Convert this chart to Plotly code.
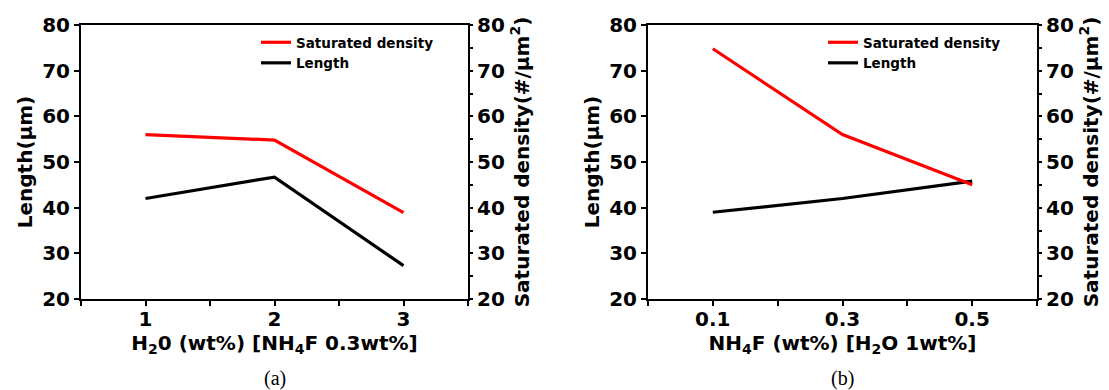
import plotly.graph_objects as go

# ---- data ----
h2o_x = [1, 2, 3]
h2o_density = [56.0, 54.8, 38.9]
h2o_length = [42.0, 46.7, 27.3]

nh4f_x = [0.1, 0.3, 0.5]
nh4f_density = [74.8, 56.0, 45.0]
nh4f_length = [39.0, 42.0, 45.8]

y_range = [20, 80]
h2o_ticks = [1, 2, 3]
nh4f_ticks = [0.1, 0.3, 0.5]
nh4f_ticklabels = ["0.1", "0.3", "0.5"]

W, H = 1109, 390
FONT = "DejaVu Sans"
BOLD = dict(family=FONT, size=20, color="black", weight="bold")
TITLE = dict(family=FONT, size=20, color="black", weight="bold")

fig = go.Figure()

# Left panel
fig.add_trace(go.Scatter(x=h2o_x, y=h2o_density, mode="lines", name="Saturated density",
                         line=dict(color="#ff0000", width=3.2), xaxis="x", yaxis="y2",
                         legend="legend"))
fig.add_trace(go.Scatter(x=h2o_x, y=h2o_length, mode="lines", name="Length",
                         line=dict(color="black", width=3.2), xaxis="x", yaxis="y",
                         legend="legend"))
# Right panel
fig.add_trace(go.Scatter(x=nh4f_x, y=nh4f_density, mode="lines", name="Saturated density",
                         line=dict(color="#ff0000", width=3.2), xaxis="x3", yaxis="y4",
                         legend="legend2"))
fig.add_trace(go.Scatter(x=nh4f_x, y=nh4f_length, mode="lines", name="Length",
                         line=dict(color="black", width=3.2), xaxis="x3", yaxis="y3",
                         legend="legend2"))

ydom = [1 - 299 / H, 1 - 25 / H]
xdomA = [81 / W, 468 / W]
xdomB = [648 / W, 1037 / W]

def xax(domain, rng, tickvals, ticktext, title, anchor):
    return dict(domain=domain, range=rng, tickvals=tickvals, ticktext=ticktext,
                ticks="outside", ticklen=5, tickwidth=2, tickcolor="black",
                showline=True, linewidth=2, linecolor="black", mirror=True,
                showgrid=False, zeroline=False, tickfont=BOLD, anchor=anchor,
                automargin=False, ticklabelstandoff=-4,
                minor=dict(ticks="outside", ticklen=5, tickwidth=2, tickcolor="black",
                           dtick=(tickvals[1] - tickvals[0]) / 2, tick0=tickvals[0]),
                title=dict(text=title, font=TITLE, standoff=0))

def yleft(anchor, title):
    return dict(domain=ydom, range=y_range, dtick=10, ticks="outside", ticklen=5,
                tickwidth=2, tickcolor="black", showline=True, linewidth=2,
                linecolor="black", showgrid=False, zeroline=False, tickfont=BOLD,
                anchor=anchor, automargin=False,
                title=dict(text=title, font=TITLE, standoff=4))

def yright(anchor, overlay, title):
    return dict(range=y_range, dtick=10, ticks="outside", ticklen=3, tickwidth=2,
                tickcolor="black", showline=True, linewidth=2, linecolor="black",
                showgrid=False, zeroline=False, tickfont=BOLD, anchor=anchor,
                overlaying=overlay, side="right", automargin=False,
                minor=dict(ticks="outside", ticklen=3, tickwidth=2, tickcolor="black", dtick=5),
                title=dict(text=title, font=TITLE, standoff=11))

def ycross(anchor, overlay):
    return dict(range=y_range, dtick=10, ticks="inside", ticklen=3, tickwidth=2,
                tickcolor="black", showline=False, showgrid=False, zeroline=False,
                showticklabels=False, anchor=anchor, overlaying=overlay, side="right",
                automargin=False,
                minor=dict(ticks="inside", ticklen=3, tickwidth=2, tickcolor="black", dtick=5))

dens_title = "Saturated density(#/µm<sup>2</sup>)"
len_title = "Length(µm)"

legend_common = dict(font=dict(family=FONT, size=13.5, color="black", weight="bold"),
                     bgcolor="rgba(0,0,0,0)", borderwidth=0, tracegroupgap=0,
                     itemwidth=30, yanchor="top", xanchor="left", traceorder="normal")

fig.update_layout(
    width=W, height=H, margin=dict(l=0, r=0, t=0, b=0, autoexpand=False),
    paper_bgcolor="white", plot_bgcolor="white",
    xaxis=xax(xdomA, [0.5, 3.5], h2o_ticks, [str(v) for v in h2o_ticks],
              "H<sub>2</sub>0 (wt%) [NH<sub>4</sub>F 0.3wt%]", "y"),
    yaxis=yleft("x", len_title),
    yaxis2=yright("x", "y", dens_title),
    yaxis5=ycross("x", "y"),
    xaxis3=xax(xdomB, [0.0, 0.6], nh4f_ticks, nh4f_ticklabels,
               "NH<sub>4</sub>F (wt%) [H<sub>2</sub>O 1wt%]", "y3"),
    yaxis3=yleft("x3", len_title),
    yaxis4=yright("x3", "y3", dens_title),
    yaxis6=ycross("x3", "y3"),
    legend=dict(x=256 / W, y=1 - 27 / H, **legend_common),
    legend2=dict(x=823 / W, y=1 - 27 / H, **legend_common),
    annotations=[
        dict(text="(a)", x=0.5, xref="x domain", y=1 - 378 / H, yref="paper",
             yanchor="middle", showarrow=False,
             font=dict(family="Liberation Serif", size=20, color="black")),
        dict(text="(b)", x=0.5, xref="x3 domain", y=1 - 378 / H, yref="paper",
             yanchor="middle", showarrow=False,
             font=dict(family="Liberation Serif", size=20, color="black")),
    ],
)

fig.write_html("out.html")
